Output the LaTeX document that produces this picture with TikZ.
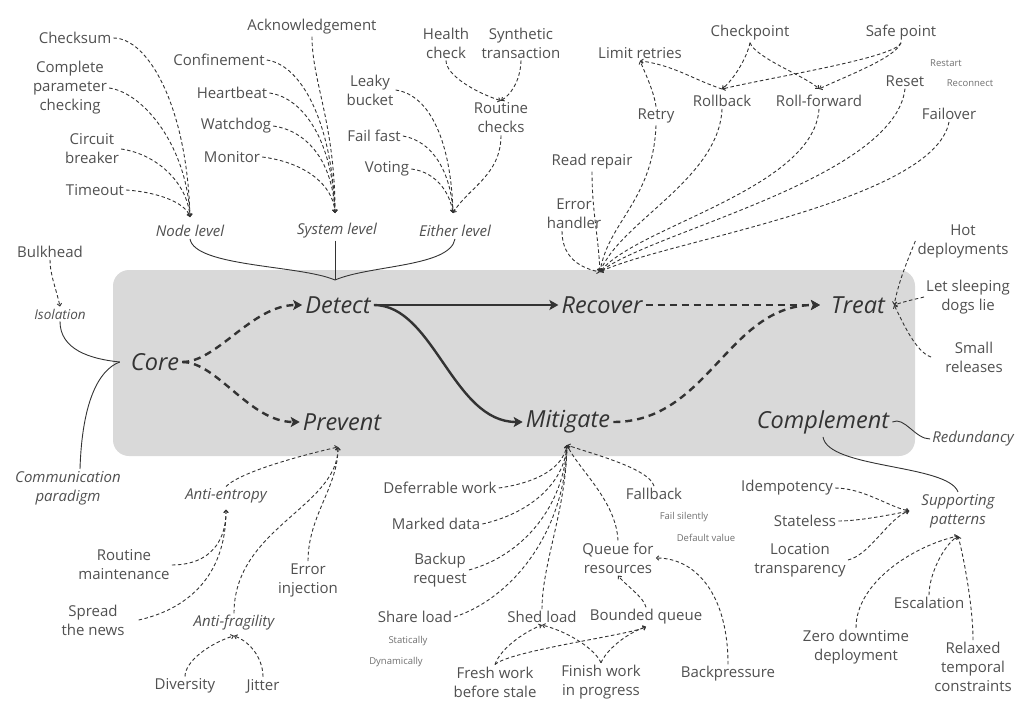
\documentclass[tikz,border=0pt]{standalone}
\usepackage{fontspec}
\setmainfont{Open Sans}
\usetikzlibrary{arrows.meta}
\definecolor{Ink}{HTML}{333333}
\definecolor{Label}{HTML}{505050}
\definecolor{Soft}{HTML}{707070}
\definecolor{Panel}{HTML}{D9D9D9}
\tikzset{
 lbl/.style={font=\fontsize{15}{19}\selectfont,text=Label,align=center,inner sep=2pt},
 sub/.style={lbl,font=\fontsize{15}{19}\selectfont\itshape},
 tiny/.style={font=\fontsize{9.5}{11}\selectfont,text=Soft,inner sep=1pt},
 stage/.style={font=\fontsize{23.5}{27}\selectfont\itshape,text=Ink,inner sep=3pt},
 link/.style={draw=Ink,line width=0.9pt,dash pattern=on 3.5pt off 2.5pt,
   -{Straight Barb[length=2.5pt,width=4.5pt]}},
 tie/.style={draw=Ink,line width=0.9pt},
 flow/.style={draw=Ink,line width=2.4pt,-{Stealth[length=9pt,width=10pt,inset=2pt]}},
 dflow/.style={flow,dash pattern=on 7pt off 5pt}
}
\begin{document}
\begin{tikzpicture}[x=1pt,y=-1pt]
\useasboundingbox (0,0) rectangle (1024,725);
\fill[Panel,rounded corners=16pt] (113,270) rectangle (915,456);

% stages
\node[stage] (core) at (155,362) {Core};
\node[stage] (detect) at (338,305) {Detect};
\node[stage] (prevent) at (342,422) {Prevent};
\node[stage] (recover) at (602,305) {Recover};
\node[stage] (mitigate) at (568,422) {Mitigate};
\node[stage] (treat) at (858,305) {Treat};
\node[stage] (complement) at (823,422) {Complement};

% detect side
\node[lbl] (checksum) at (75,38) {Checksum};
\node[lbl] (paramchk) at (70,88) {Complete\\parameter\\checking};
\node[lbl] (breaker) at (92,149) {Circuit\\breaker};
\node[lbl] (timeout) at (95,190) {Timeout};
\node[sub] (nodelvl) at (190,231) {Node level};
\node[lbl] (ack) at (312,27) {Acknowledgement};
\node[lbl] (confine) at (219,60) {Confinement};
\node[lbl] (heartbeat) at (232,93) {Heartbeat};
\node[lbl] (watchdog) at (236,126) {Watchdog};
\node[lbl] (monitor) at (232,157) {Monitor};
\node[sub] (syslvl) at (337,231) {System level};
\node[lbl] (leaky) at (370,90) {Leaky\\bucket};
\node[lbl] (failfast) at (374,136) {Fail fast};
\node[lbl] (voting) at (387,169) {Voting};
\node[sub] (eitherlvl) at (455,231) {Either level};
\node[lbl] (health) at (446,43) {Health\\check};
\node[lbl] (synth) at (521,43) {Synthetic\\transaction};
\node[lbl] (routine) at (501,118) {Routine\\checks};

% recover side
\node[lbl] (limit) at (640,53) {Limit retries};
\node[lbl] (checkpt) at (750,33) {Checkpoint};
\node[lbl] (safept) at (901,33) {Safe point};
\node[tiny] (restart) at (946,63) {Restart};
\node[tiny] (reconnect) at (970,83) {Reconnect};
\node[lbl] (reset) at (905,81) {Reset};
\node[lbl] (rollback) at (722,101) {Rollback};
\node[lbl] (rollfwd) at (819,101) {Roll-forward};
\node[lbl] (retry) at (656,116) {Retry};
\node[lbl] (failover) at (949,114) {Failover};
\node[lbl] (readrep) at (592,162) {Read repair};
\node[lbl] (errhand) at (574,214) {Error\\handler};

% core side
\node[lbl] (bulkhead) at (50,252) {Bulkhead};
\node[sub,font=\fontsize{13.5}{17}\selectfont\itshape] (isolation) at (60,314) {Isolation};
\node[sub] (commpar) at (68,488) {Communication\\paradigm};

% treat side
\node[lbl] (hotdep) at (963,241) {Hot\\deployments};
\node[lbl] (sleeping) at (968,297) {Let sleeping\\dogs lie};
\node[lbl] (smallrel) at (974,357) {Small\\releases};
\node[sub] (redund) at (973,439) {Redundancy};

% prevent side
\node[sub] (antient) at (226,496) {Anti-entropy};
\node[lbl] (maint) at (124,565) {Routine\\maintenance};
\node[lbl] (spread) at (93,620) {Spread\\the news};
\node[lbl] (errinj) at (308,580) {Error\\injection};
\node[sub] (antifrag) at (234,623) {Anti-fragility};
\node[lbl] (diversity) at (185,686) {Diversity};
\node[lbl] (jitter) at (263,686) {Jitter};

% mitigate side
\node[lbl] (deferr) at (440,488) {Deferrable work};
\node[lbl] (marked) at (436,524) {Marked data};
\node[lbl] (backup) at (440,570) {Backup\\request};
\node[lbl] (share) at (415,617) {Share load};
\node[tiny] (statically) at (408,641) {Statically};
\node[tiny] (dynamically) at (396,662) {Dynamically};
\node[lbl] (shed) at (542,617) {Shed load};
\node[lbl] (bounded) at (646,617) {Bounded queue};
\node[lbl] (fresh) at (495,682) {Fresh work\\before stale};
\node[lbl] (finish) at (601,682) {Finish work\\in progress};
\node[lbl] (queue) at (618,558) {Queue for\\resources};
\node[lbl] (fallback) at (654,494) {Fallback};
\node[tiny] (silent) at (684,517) {Fail silently};
\node[tiny] (default) at (706,538) {Default value};
\node[lbl] (backpres) at (728,674) {Backpressure};

% complement side
\node[lbl] (idemp) at (787,488) {Idempotency};
\node[lbl] (stateless) at (805,521) {Stateless};
\node[lbl] (location) at (800,560) {Location\\transparency};
\node[sub] (support) at (958,511) {Supporting\\patterns};
\node[lbl] (escal) at (929,603) {Escalation};
\node[lbl] (zerodown) at (856,647) {Zero downtime\\deployment};
\node[lbl] (relaxed) at (973,667) {Relaxed\\temporal\\constraints};

% hubs
\coordinate (hN) at ([yshift=6pt]nodelvl.north);
\coordinate (hS) at (335,213);
\coordinate (hE) at (453,213);
\coordinate (hB) at (335,280);
\coordinate (hC) at ([xshift=-8pt]core.west);
\coordinate (hR) at (600,272);
\coordinate (hRb) at ([yshift=4pt]rollback.north);
\coordinate (hRf) at ([yshift=4pt]rollfwd.north);
\coordinate (hT) at ([xshift=6pt]treat.east);
\coordinate (hP) at (338,447);
\coordinate (hAE) at ([yshift=-4pt]antient.south);
\coordinate (hAF) at ([yshift=-3pt]antifrag.south);
\coordinate (hM) at (567,445);
\coordinate (hSP) at ([xshift=-10pt]support.west);
\coordinate (hSP2) at ([yshift=-6pt]support.south);

% main flow
\draw[dflow] (core.east) .. controls +(35,0) and +(-50,0) .. (detect.west);
\draw[dflow] (core.east) .. controls +(35,0) and +(-50,0) .. (prevent.west);
\draw[flow] (detect.east) -- (recover.west);
\draw[flow] (detect.east) .. controls +(60,0) and +(-70,0) .. (mitigate.west);
\draw[dflow,shorten >=8pt] (recover.east) -- (treat.west);
\draw[dflow,shorten >=8pt] (mitigate.east) .. controls +(95,0) and +(-100,0) .. (treat.west);

% detect: node, system and either level
\draw[link] (checksum.east) .. controls +(35,0) and +(-3,-110) .. (hN);
\draw[link] (paramchk.east) .. controls +(35,5) and +(-3,-70) .. (hN);
\draw[link] (breaker.east) .. controls +(35,5) and +(-3,-35) .. (hN);
\draw[link] (timeout.east) .. controls +(30,2) and +(-5,-15) .. (hN);
\draw[link] (ack.south) .. controls +(0,45) and +(0,-90) .. (hS);
\draw[link] (confine.east) .. controls +(35,5) and +(-3,-90) .. (hS);
\draw[link] (heartbeat.east) .. controls +(35,5) and +(-2,-70) .. (hS);
\draw[link] (watchdog.east) .. controls +(35,5) and +(-2,-50) .. (hS);
\draw[link] (monitor.east) .. controls +(40,5) and +(-2,-30) .. (hS);
\draw[link] (leaky.east) .. controls +(35,5) and +(-2,-70) .. (hE);
\draw[link] (failfast.east) .. controls +(30,5) and +(-2,-40) .. (hE);
\draw[link] (voting.east) .. controls +(25,3) and +(-3,-20) .. (hE);
\draw[link] (routine.south) .. controls +(0,40) and +(15,-25) .. (hE);
\draw[link] (health.south) .. controls +(0,15) and +(-25,-8) .. (routine.north);
\draw[link] (synth.south) .. controls +(0,12) and +(15,-10) .. (routine.north);
\draw[tie] (nodelvl.south) .. controls +(5,28) and +(-35,-15) .. (hB);
\draw[tie] (eitherlvl.south) .. controls +(-5,28) and +(35,-15) .. (hB);
\draw[tie] (syslvl.south -| hB) -- (hB);

% core
\draw[link] (bulkhead.south) .. controls +(0,15) and +(-3,-15) .. (isolation.north);
\draw[tie] (isolation.south) .. controls +(0,28) and +(-30,-3) .. (hC);
\draw[tie] ([xshift=12pt]commpar.north) .. controls +(2,-65) and +(-22,8) .. (hC);

% recover
\draw[link] ([xshift=-12pt]errhand.south) .. controls +(0,22) and +(-25,-5) .. (hR);
\draw[link] (readrep.south) .. controls +(0,40) and +(-2,-40) .. (hR);
\draw[link] (retry.south) .. controls +(-3,75) and +(8,-50) .. (hR);
\draw[link] (rollback.south) .. controls +(-3,70) and +(20,-50) .. (hR);
\draw[link] (rollfwd.south) .. controls +(-5,80) and +(35,-45) .. (hR);
\draw[link] (reset.south) .. controls +(-10,90) and +(50,-40) .. (hR);
\draw[link] (failover.south) .. controls +(-15,80) and +(60,-30) .. (hR);
\draw[link] (retry.north) .. controls +(-2,-15) and +(5,12) .. (limit.south);
\draw[link] (hRb) .. controls +(-30,-10) and +(35,5) .. (limit.south);
\draw[link] (checkpt.south) .. controls +(-3,15) and +(12,-10) .. (hRb);
\draw[link] (checkpt.south) .. controls +(5,15) and +(-12,-12) .. (hRf);
\draw[link] (safept.south) .. controls +(-5,15) and +(50,-12) .. (hRb);
\draw[link] (safept.south) .. controls +(-5,15) and +(25,-12) .. (hRf);

% treat and complement
\draw[link] (hotdep.west) .. controls +(-8,20) and +(5,-25) .. (hT);
\draw[link] (sleeping.west) .. controls +(-12,3) and +(12,-4) .. (hT);
\draw[link] ([xshift=-12pt]smallrel.west) .. controls +(-15,-5) and +(10,20) .. (hT);
\draw[tie] (complement.east) .. controls +(12,-6) and +(-15,0) .. (redund.west);
\draw[tie] (complement.south) .. controls +(5,32) and +(-10,-28) .. (support.north);

% prevent
\draw[link] (antient.north) .. controls +(15,-15) and +(-35,8) .. (hP);
\draw[link] (antifrag.north) .. controls +(0,-85) and +(0,60) .. (hP);
\draw[link] (errinj.north) .. controls +(0,-45) and +(0,40) .. (hP);
\draw[link] (maint.east) .. controls +(30,0) and +(0,40) .. (hAE);
\draw[link] ([xshift=12pt]spread.east) .. controls +(45,-10) and +(0,70) .. (hAE);
\draw[link] (diversity.north) .. controls +(0,-15) and +(-25,8) .. (hAF);
\draw[link] (jitter.north) .. controls +(0,-15) and +(20,8) .. (hAF);

% mitigate
\draw[link] (deferr.east) .. controls +(35,-5) and +(-5,25) .. (hM);
\draw[link] (marked.east) .. controls +(45,-10) and +(-3,40) .. (hM);
\draw[link] (backup.east) .. controls +(55,-15) and +(-3,60) .. (hM);
\draw[link] (share.east) .. controls +(60,-20) and +(-2,85) .. (hM);
\draw[link] (shed.north) .. controls +(0,-45) and +(-1,65) .. (hM);
\draw[link] (queue.north) .. controls +(-2,-40) and +(12,25) .. (hM);
\draw[link] (fallback.north) .. controls +(-5,-18) and +(22,8) .. (hM);
\draw[link] (bounded.north) .. controls +(-2,-10) and +(8,10) .. (queue.south);
\draw[link] (backpres.north) .. controls +(0,-70) and +(40,0) .. (queue.east);
\draw[link] (fresh.north) .. controls +(5,-15) and +(-20,8) .. (shed.south);
\draw[link] (finish.north) .. controls +(-5,-12) and +(30,8) .. (shed.south);
\draw[link] (fresh.north) .. controls +(15,-14) and +(-15,8) .. (bounded.south);
\draw[link] (finish.north) .. controls +(5,-12) and +(-22,8) .. (bounded.south);

% supporting patterns
\draw[link] (idemp.east) .. controls +(28,0) and +(-20,-4) .. (hSP);
\draw[link] (stateless.east) .. controls +(22,0) and +(-15,3) .. (hSP);
\draw[link] (location.east) .. controls +(22,-5) and +(-20,6) .. (hSP);
\draw[link] (zerodown.north) .. controls +(0,-45) and +(-45,10) .. (hSP2);
\draw[link] (escal.north) .. controls +(0,-20) and +(-15,10) .. (hSP2);
\draw[link] (relaxed.north) .. controls +(0,-35) and +(5,18) .. (hSP2);
\end{tikzpicture}
\end{document}
